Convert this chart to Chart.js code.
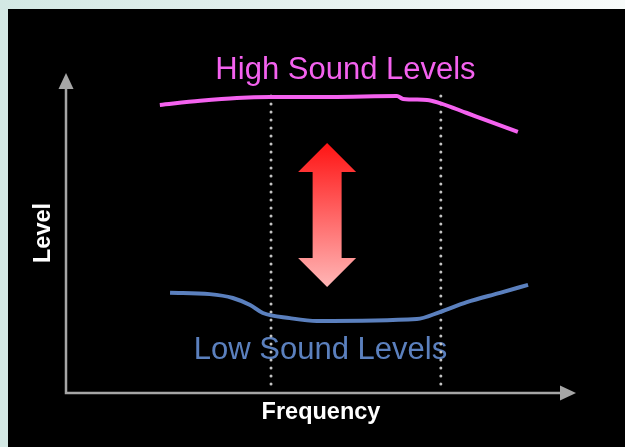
<!DOCTYPE html>
<html>
<head>
<meta charset="utf-8">
<script src="https://cdn.jsdelivr.net/npm/chart.js@4.4.1/dist/chart.umd.min.js"></script>
<style>
  html, body { margin: 0; padding: 0; background: #000; }
  canvas { display: block; }
</style>
</head>
<body>
<canvas id="levels" width="625" height="447"></canvas>
<script>
// frequency (0-100) against level (0-100), no units
const highFreq  = [18.4, 26.3, 33.5, 40.0, 51.8, 64.9, 66.1, 70.8, 73.3, 78.6, 81.8, 88.6];
const highLevel = [90.0, 91.3, 92.2, 92.5, 92.5, 92.8, 91.9, 91.6, 90.6, 87.5, 85.6, 81.6];
const lowFreq   = [20.4, 28.2, 32.7, 36.1, 38.6, 43.9, 49.2, 68.8, 73.3, 78.6, 85.1, 90.6];
const lowLevel  = [31.3, 30.9, 29.7, 27.5, 25.0, 23.4, 22.5, 23.1, 25.3, 28.4, 31.3, 33.8];
const bandEdges = [40.2, 73.5];      // dotted band markers (frequency)
const bandRange = [92.8, 1.6];       // level span of the markers
const seriesLabels = ["High Sound Levels", "Low Sound Levels"];
const axisTitles = ["Frequency", "Level"];

const FONT = "'Liberation Sans', Arial, sans-serif";
const PINK = '#f462ef';
const BLUE = '#5b80be';
const AXIS = '#a6a6a6';

function toPoints(xs, ys) {
    return xs.map((x, i) => ({ x: x, y: ys[i] }));
}

// mint frame and black panel
const backdrop = {
    id: 'backdrop',
    beforeDraw(chart) {
        const ctx = chart.ctx;
        ctx.save();
        const g = ctx.createLinearGradient(0, 0, chart.width, 0);
        g.addColorStop(0, '#d3e8e4');
        g.addColorStop(1, '#f8fbfa');
        ctx.fillStyle = g;
        ctx.fillRect(0, 0, chart.width, chart.height);
        ctx.fillStyle = '#000';
        ctx.fillRect(8, 9, chart.width - 8, chart.height - 9);
        ctx.restore();
    }
};

// axes with arrow heads, series captions and the red double arrow
const decorations = {
    id: 'decorations',
    beforeDatasetsDraw(chart) {
        const ctx = chart.ctx;
        const a = chart.chartArea;
        const xs = chart.scales.x, ys = chart.scales.y;
        ctx.save();

        // axes
        ctx.strokeStyle = AXIS;
        ctx.fillStyle = AXIS;
        ctx.lineWidth = 2.5;
        ctx.beginPath();
        ctx.moveTo(a.left, a.top + 14);
        ctx.lineTo(a.left, a.bottom);
        ctx.lineTo(a.right - 14, a.bottom);
        ctx.stroke();
        ctx.beginPath();
        ctx.moveTo(a.left, a.top);
        ctx.lineTo(a.left - 7.5, a.top + 16);
        ctx.lineTo(a.left + 7.5, a.top + 16);
        ctx.closePath();
        ctx.fill();
        ctx.beginPath();
        ctx.moveTo(a.right, a.bottom);
        ctx.lineTo(a.right - 16, a.bottom - 7.5);
        ctx.lineTo(a.right - 16, a.bottom + 7.5);
        ctx.closePath();
        ctx.fill();

        // captions
        ctx.font = '31px ' + FONT;
        ctx.textAlign = 'center';
        ctx.textBaseline = 'alphabetic';
        ctx.fillStyle = PINK;
        ctx.fillText(seriesLabels[0], xs.getPixelForValue(54.8), ys.getPixelForValue(98.1));
        ctx.fillStyle = BLUE;
        ctx.fillText(seriesLabels[1], xs.getPixelForValue(49.9), ys.getPixelForValue(10.6));

        // double arrow between the two levels
        const cx = xs.getPixelForValue(51.2);
        const top = ys.getPixelForValue(78.1);
        const bot = ys.getPixelForValue(33.1);
        const head = 29, half = 29, shaft = 14.5;
        const grad = ctx.createLinearGradient(0, top, 0, bot);
        grad.addColorStop(0, '#ff1414');
        grad.addColorStop(1, '#ffb6b6');
        ctx.fillStyle = grad;
        ctx.beginPath();
        ctx.moveTo(cx, top);
        ctx.lineTo(cx + half, top + head);
        ctx.lineTo(cx + shaft, top + head);
        ctx.lineTo(cx + shaft, bot - head);
        ctx.lineTo(cx + half, bot - head);
        ctx.lineTo(cx, bot);
        ctx.lineTo(cx - half, bot - head);
        ctx.lineTo(cx - shaft, bot - head);
        ctx.lineTo(cx - shaft, top + head);
        ctx.lineTo(cx - half, top + head);
        ctx.closePath();
        ctx.fill();

        ctx.restore();
    }
};

const titleFont = { family: FONT, size: 23.5, weight: 'bold' };

new Chart(document.getElementById('levels'), {
    type: 'line',
    data: {
        datasets: [
            {
                label: seriesLabels[0],
                data: toPoints(highFreq, highLevel),
                borderColor: PINK,
                borderWidth: 4,
                cubicInterpolationMode: 'monotone',
                pointRadius: 0
            },
            {
                label: seriesLabels[1],
                data: toPoints(lowFreq, lowLevel),
                borderColor: BLUE,
                borderWidth: 4,
                cubicInterpolationMode: 'monotone',
                pointRadius: 0
            },
            ...bandEdges.map(f => ({
                label: 'band',
                data: toPoints([f, f], bandRange),
                borderColor: '#c4c4c4',
                borderWidth: 3,
                borderDash: [0, 8],
                borderCapStyle: 'round',
                pointRadius: 0
            }))
        ]
    },
    options: {
        responsive: false,
        animation: false,
        devicePixelRatio: 1,
        layout: { padding: { left: 29.9, top: 73, right: 49, bottom: 0 } },
        plugins: {
            legend: { display: false },
            tooltip: { enabled: false }
        },
        scales: {
            x: {
                type: 'linear',
                min: 0,
                max: 100,
                grid: { display: false, drawTicks: false },
                border: { display: false },
                ticks: { display: false },
                title: {
                    display: true,
                    text: axisTitles[0],
                    color: '#fff',
                    font: titleFont,
                    padding: { top: 5.8, bottom: 20 }
                }
            },
            y: {
                type: 'linear',
                min: 0,
                max: 100,
                grid: { display: false, drawTicks: false },
                border: { display: false },
                ticks: { display: false },
                title: {
                    display: true,
                    text: axisTitles[1],
                    color: '#fff',
                    font: titleFont,
                    padding: { top: 0, bottom: 7.9 }
                }
            }
        }
    },
    plugins: [backdrop, decorations]
});
</script>
</body>
</html>
